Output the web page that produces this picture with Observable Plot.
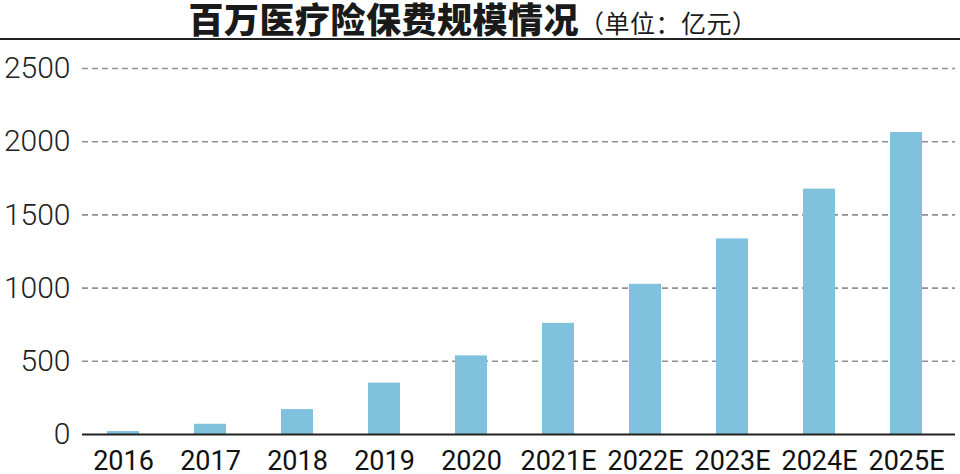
<!DOCTYPE html>
<html>
<head>
<meta charset="utf-8">
<script src="https://cdn.jsdelivr.net/npm/d3@7"></script>
<script src="https://cdn.jsdelivr.net/npm/@observablehq/plot@0.6"></script>
<style>
  html, body { margin: 0; padding: 0; background: #fff; width: 960px; height: 474px; overflow: hidden; }
  #title {
    height: 40px; box-sizing: border-box; border-bottom: 2px solid #222;
    text-align: center; padding-right: 14px; white-space: nowrap;
    font-family: "Noto Sans CJK SC", sans-serif; color: #1a1a1a; line-height: 36px;
  }
  #title .main { font-size: 35px; font-weight: 900; letter-spacing: 0.5px; }
  #title .unit { font-size: 25px; font-weight: 400; letter-spacing: 0.5px; }
  #chart { height: 434px; }
</style>
</head>
<body>
<div id="title"><span class="main">百万医疗险保费规模情况</span><span class="unit">（单位：亿元）</span></div>
<div id="chart"></div>
<script>
const years = ["2016", "2017", "2018", "2019", "2020", "2021E", "2022E", "2023E", "2024E", "2025E"];
const premiums = [20, 70, 170, 351, 537, 759, 1026, 1336, 1676, 2063];
const yTicks = [0, 500, 1000, 1500, 2000, 2500];

const data = years.map((y, i) => ({year: y, value: premiums[i]}));

const chart = Plot.plot({
  width: 960,
  height: 434,
  marginTop: 28,
  marginBottom: 40,
  marginLeft: 82,
  marginRight: 5,
  style: {background: "#fff", color: "#222", overflow: "visible"},
  x: {domain: years, range: [76, 952], paddingInner: 0.636, paddingOuter: 0.318, label: null},
  y: {domain: [0, 2500], label: null},
  marks: [
    Plot.ruleY(yTicks.filter(d => d > 0), {stroke: "#8f8f8f", strokeWidth: 1.6, strokeDasharray: "6,4"}),
    Plot.barY(data, {x: "year", y: "value", fill: "#80c1dd"}),
    Plot.ruleY([0], {stroke: "#222", strokeWidth: 2}),
    Plot.axisY(yTicks, {tickSize: 0, tickPadding: 12, tickFormat: d => String(d), fontSize: 30, fontFamily: "Roboto, 'Liberation Sans', sans-serif", fontWeight: 300, fill: "#222", label: null}),
    Plot.axisX(years, {tickSize: 0, tickPadding: 16, fontSize: 27, fontFamily: "Roboto, 'Liberation Sans', sans-serif", fontWeight: 400, fill: "#111", label: null})
  ]
});
document.getElementById("chart").appendChild(chart);
</script>
</body>
</html>
